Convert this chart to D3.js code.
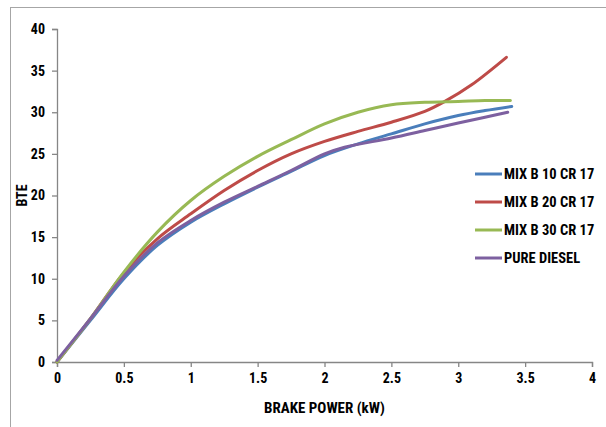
<!DOCTYPE html>
<html><head><meta charset="utf-8">
<script src="https://cdn.jsdelivr.net/npm/d3@7"></script>
<style>body{margin:0;background:#fff}svg{display:block}</style>
</head><body>
<script>
const seriesNames = ["MIX B 10 CR 17","MIX B 20 CR 17","MIX B 30 CR 17","PURE DIESEL"];
const seriesColors = ["#4A7EBB","#BE4B48","#98B954","#7D60A0"];
const b10X = [0,0.25,0.5,0.75,1,1.25,1.5,1.75,2,2.25,2.5,2.75,3,3.2,3.4];
const b10Y = [0,5.0,10.0,14.0,16.8,19.0,21.0,22.9,24.8,26.2,27.4,28.6,29.6,30.2,30.7];
const b20X = [0,0.25,0.5,0.75,1,1.25,1.5,1.75,2,2.25,2.5,2.75,2.9,3.1,3.36];
const b20Y = [0,5.2,10.7,14.8,17.8,20.6,23.0,25.0,26.5,27.7,28.8,30.1,31.3,33.3,36.6];
const b30X = [0,0.25,0.5,0.75,1,1.25,1.5,1.75,2,2.25,2.5,2.75,3,3.2,3.39];
const b30Y = [0,5.2,10.8,15.6,19.4,22.3,24.7,26.7,28.6,30.0,30.9,31.2,31.3,31.4,31.4];
const dieselX = [0,0.25,0.5,0.75,1,1.25,1.5,1.75,2,2.15,2.5,2.75,3,3.2,3.37];
const dieselY = [0.2,5.2,10.3,14.3,17.0,19.2,21.1,23.0,25.0,25.8,26.9,27.8,28.7,29.4,30.0];
const xTicks = [0,0.5,1,1.5,2,2.5,3,3.5,4];
const yTicks = [0,5,10,15,20,25,30,35,40];
const xTitle = "BRAKE POWER (kW)";
const yTitle = "BTE";

const W = 606, H = 427;
const svg = d3.select("body").append("svg").attr("width", W).attr("height", H);
svg.append("rect").attr("x",10.5).attr("y",7.5).attr("width",620).attr("height",440)
  .attr("fill","none").attr("stroke","#A6A6A6").attr("stroke-width",1);

const x = d3.scaleLinear().domain([0,4]).range([57,592]);
const y = d3.scaleLinear().domain([0,40]).range([362,29]);
const font = "'Liberation Sans Narrow','Roboto Condensed','Liberation Sans',sans-serif";
const axisColor = "#868686";

const gx = svg.append("g").attr("transform",`translate(0,${y(0)})`)
  .call(d3.axisBottom(x).tickValues(xTicks).tickSize(5).tickPadding(6).tickFormat(d3.format("")));
const gy = svg.append("g").attr("transform",`translate(${x(0)},0)`)
  .call(d3.axisLeft(y).tickValues(yTicks).tickSize(5).tickPadding(7));
[gx,gy].forEach(g=>{
  g.selectAll("path,line").attr("stroke",axisColor).attr("stroke-width",1.3);
  g.selectAll("text").attr("font-family",font).attr("font-weight","bold").attr("font-size",14).attr("fill","#000");
});

const all = [[b10X,b10Y],[b20X,b20Y],[b30X,b30Y],[dieselX,dieselY]];
const line = d3.line().x(d=>x(d[0])).y(d=>y(d[1])).curve(d3.curveCatmullRom.alpha(0.5));
all.forEach(([xs,ys],i)=>{
  const pts = xs.map((v,j)=>[v,ys[j]]);
  svg.append("path").datum(pts).attr("d",line).attr("fill","none")
    .attr("stroke",seriesColors[i]).attr("stroke-width",3).attr("stroke-linecap","round");
});

const leg = svg.append("g");
seriesNames.forEach((n,i)=>{
  const ly = 174 + i*28;
  leg.append("line").attr("x1",475).attr("x2",502).attr("y1",ly).attr("y2",ly)
    .attr("stroke",seriesColors[i]).attr("stroke-width",3);
  leg.append("text").attr("x",504).attr("y",ly).attr("dy","0.35em").text(n)
    .attr("font-family",font).attr("font-weight","bold").attr("font-size",14.5).attr("fill","#000");
});

svg.append("text").attr("x",(x(0)+x(4))/2).attr("y",413).attr("text-anchor","middle")
  .attr("font-family",font).attr("font-weight","bold").attr("font-size",15).text(xTitle);
svg.append("text").attr("transform",`translate(27,${y(20)}) rotate(-90)`).attr("text-anchor","middle")
  .attr("font-family",font).attr("font-weight","bold").attr("font-size",14).text(yTitle);
</script>
</body></html>
